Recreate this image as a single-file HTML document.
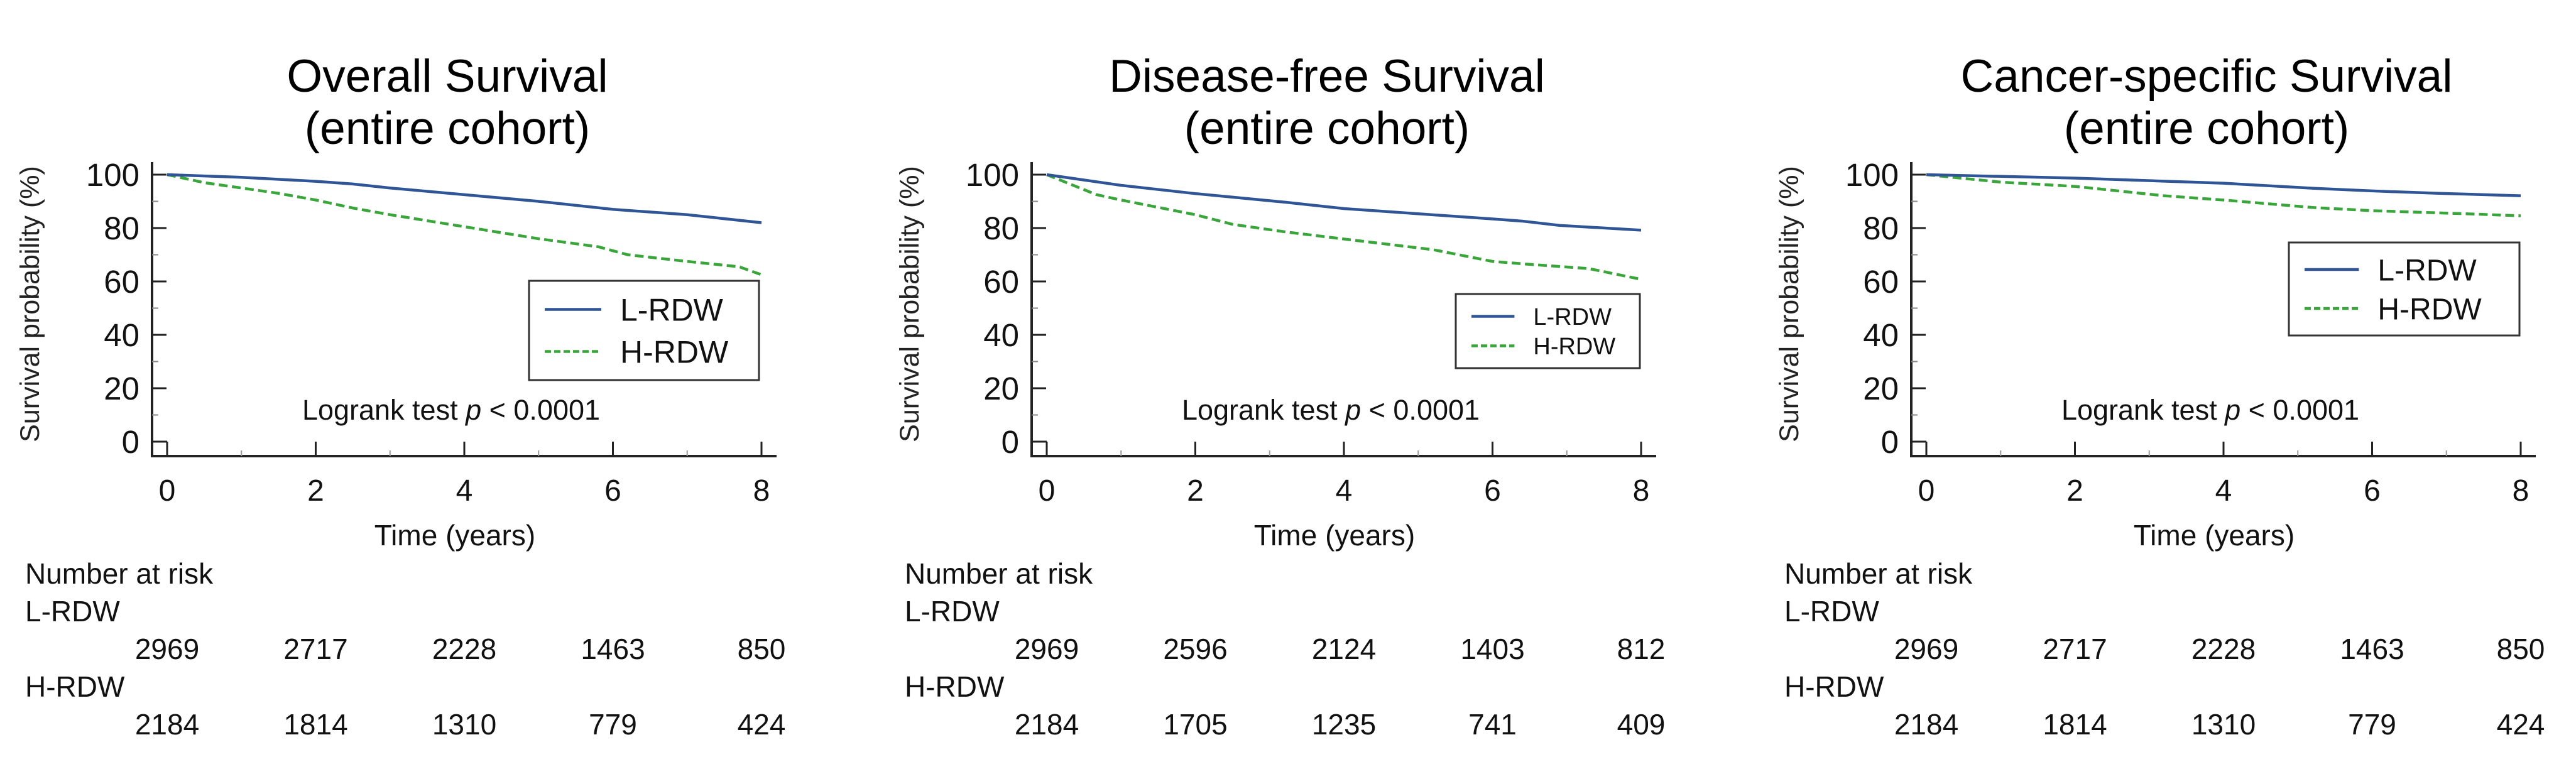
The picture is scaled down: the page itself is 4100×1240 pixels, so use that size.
<!DOCTYPE html>
<html><head><meta charset="utf-8">
<style>
html,body{margin:0;padding:0;background:#fff;}
svg{display:block;font-family:"Liberation Sans",Arial,sans-serif;}
</style></head>
<body>
<svg id="chart" width="4100" height="1240" viewBox="0 0 4100 1240" xmlns="http://www.w3.org/2000/svg"></svg>
<script>
// ---- data ----
const panelTitles1 = ["Overall Survival", "Disease-free Survival", "Cancer-specific Survival"];
const panelTitles2 = ["(entire cohort)", "(entire cohort)", "(entire cohort)"];
const seriesNames = ["L-RDW", "H-RDW"];
const xTicks = [0, 2, 4, 6, 8];
const yTicks = [0, 20, 40, 60, 80, 100];
// Panel 1 - Overall survival
const os_L_t = [0, 1, 2, 2.5, 3, 4, 5, 6, 7, 8];
const os_L_v = [100, 99, 97.5, 96.5, 95, 92.5, 90, 87, 85, 82];
const os_H_t = [0, 0.5, 1, 1.5, 2, 2.5, 3, 4, 5, 5.8, 6.2, 7, 7.7, 8];
const os_H_v = [100, 97, 95, 93, 90.5, 87.5, 85, 80.5, 76, 73, 70, 67.5, 65.5, 62.5];
// Panel 2 - Disease-free survival
const dfs_L_t = [0, 0.5, 1, 2, 3.2, 4, 6, 6.4, 6.9, 8];
const dfs_L_v = [100, 98, 96, 92.9, 89.7, 87.3, 83.4, 82.6, 81, 79.2];
const dfs_H_t = [0, 0.67, 1, 2, 2.5, 3.2, 4, 5.2, 6, 6.5, 7.3, 8];
const dfs_H_v = [100, 92.5, 90.5, 85, 81.4, 78.6, 75.9, 71.9, 67.5, 66.4, 64.8, 60.8];
// Panel 3 - Cancer-specific survival
const css_L_t = [0, 2, 4, 5.2, 6, 6.9, 8];
const css_L_v = [100, 98.7, 96.8, 94.9, 93.9, 93, 92.1];
const css_H_t = [0, 1, 2, 3.2, 4, 5.2, 6, 7.2, 8];
const css_H_v = [100, 97.2, 95.6, 92.1, 90.5, 87.7, 86.5, 85.4, 84.6];
// Numbers at risk
const os_risk_L = [2969, 2717, 2228, 1463, 850];
const os_risk_H = [2184, 1814, 1310, 779, 424];
const dfs_risk_L = [2969, 2596, 2124, 1403, 812];
const dfs_risk_H = [2184, 1705, 1235, 741, 409];
const css_risk_L = [2969, 2717, 2228, 1463, 850];
const css_risk_H = [2184, 1814, 1310, 779, 424];

const panels = [
  {Lt: os_L_t, Lv: os_L_v, Ht: os_H_t, Hv: os_H_v, rL: os_risk_L, rH: os_risk_H, key: "os"},
  {Lt: dfs_L_t, Lv: dfs_L_v, Ht: dfs_H_t, Hv: dfs_H_v, rL: dfs_risk_L, rH: dfs_risk_H, key: "dfs"},
  {Lt: css_L_t, Lv: css_L_v, Ht: css_H_t, Hv: css_H_v, rL: css_risk_L, rH: css_risk_H, key: "css"}
];
const legendBoxes = [
  {x: 842, y: 447, w: 366, h: 158, fs: 50},
  {x: 917, y: 468, w: 293, h: 118, fs: 38},
  {x: 843, y: 386, w: 367, h: 148, fs: 48}
];

const NS = "http://www.w3.org/2000/svg";
const svg = document.getElementById("chart");
function mk(tag, attrs, parent, text) {
  const e = document.createElementNS(NS, tag);
  for (const k in attrs) e.setAttribute(k, attrs[k]);
  if (text !== undefined) e.textContent = text;
  (parent || svg).appendChild(e);
  return e;
}
const BLUE = "#2f5597", GREEN = "#3aa53a";

panels.forEach((p, i) => {
  const ox = i * 1400;
  const x0 = ox + 266, x8 = ox + 1212;
  const yTop = 278, yBot = 703;
  const xs = t => x0 + (x8 - x0) * t / 8;
  const ys = v => yBot - (yBot - yTop) * v / 100;
  const axisX = x0 - 24, axisY = 726;
  const g = mk("g", {});
  
  

  const t1 = mk("text", {x: ox + 712, y: 146, "text-anchor": "middle", "font-size": 73, fill: "#000"}, g, panelTitles1[i]);
  
  
  const t2 = mk("text", {x: ox + 712, y: 229, "text-anchor": "middle", "font-size": 73, fill: "#000"}, g, panelTitles2[i]);
  
  

  const yt = mk("text", {x: 0, y: 0, "text-anchor": "middle", "font-size": 43, fill: "#222",
    transform: `translate(${ox + 62},484) rotate(-90)`}, g, "Survival probability (%)");
  
  

  const ax = mk("path", {d: `M${axisX} 258 L${axisX} ${axisY} L${x8 + 24} ${axisY}`, stroke: "#222", "stroke-width": 4, fill: "none"}, g);
  
  

  yTicks.forEach(v => {
    const y = ys(v);
    const tk = mk("line", {x1: axisX, x2: (v === 0 ? x0 : axisX + 23), y1: y, y2: y, stroke: "#222", "stroke-width": 3}, g);
    
    
    const lb = mk("text", {x: axisX - 20, y: y + 18, "text-anchor": "end", "font-size": 51, fill: "#111"}, g, String(v));
    
    
  });
  for (let v = 10; v < 100; v += 20) {
    const mt = mk("line", {x1: axisX, x2: axisX + 10, y1: ys(v), y2: ys(v), stroke: "#888", "stroke-width": 2}, g);
    
    
  }
  xTicks.forEach(t => {
    const x = xs(t);
    const tk = mk("line", {x1: x, x2: x, y1: axisY, y2: axisY - 23, stroke: "#222", "stroke-width": 3}, g);
    
    
    const lb = mk("text", {x: x, y: 797, "text-anchor": "middle", "font-size": 48, fill: "#111"}, g, String(t));
    
    
  });
  for (let t = 1; t < 8; t += 2) {
    const mt = mk("line", {x1: xs(t), x2: xs(t), y1: axisY, y2: axisY - 9, stroke: "#999", "stroke-width": 2}, g);
    
    
  }
  const xt = mk("text", {x: ox + 724, y: 868, "text-anchor": "middle", "font-size": 46, fill: "#111"}, g, "Time (years)");
  
  

  const ptsL = p.Lt.map((t, k) => xs(t) + "," + ys(p.Lv[k])).join(" ");
  const ptsH = p.Ht.map((t, k) => xs(t) + "," + ys(p.Hv[k])).join(" ");
  const cH = mk("polyline", {points: ptsH, fill: "none", stroke: GREEN, "stroke-width": 4.5, "stroke-dasharray": "14 7"}, g);
  
  
  const cL = mk("polyline", {points: ptsL, fill: "none", stroke: BLUE, "stroke-width": 4.5}, g);
  
  

  const lb = legendBoxes[i];
  const lg = mk("g", {}, g);
  
  
  mk("rect", {x: ox + lb.x, y: lb.y, width: lb.w, height: lb.h, fill: "#fff", stroke: "#333", "stroke-width": 3}, lg);
  const rowH = lb.h / 2;
  seriesNames.forEach((n, k) => {
    const cy = lb.y + rowH * (k + 0.5) + (k === 0 ? 6 : -6);
    const lx = ox + lb.x + 25;
    const ln = mk("line", {x1: lx, x2: lx + lb.fs * 1.8, y1: cy, y2: cy, stroke: k === 0 ? BLUE : GREEN, "stroke-width": 4.5,
      "stroke-dasharray": k === 0 ? "none" : "10 5"}, lg);
    
    
    const tx = mk("text", {x: lx + lb.fs * 1.8 + 30, y: cy + lb.fs * 0.36, "font-size": lb.fs, fill: "#111"}, lg, n);
    
    
  });

  const lr = mk("text", {x: ox + 718, y: 668, "text-anchor": "middle", "font-size": 45, fill: "#111"}, g);
  
  
  mk("tspan", {}, lr, "Logrank test ");
  mk("tspan", {"font-style": "italic"}, lr, "p");
  mk("tspan", {}, lr, " < 0.0001");

  const rt = mk("g", {}, g);
  
  
  mk("text", {x: ox + 40, y: 929, "font-size": 46, fill: "#111"}, rt, "Number at risk");
  mk("text", {x: ox + 40, y: 989, "font-size": 46, fill: "#111"}, rt, "L-RDW");
  mk("text", {x: ox + 40, y: 1109, "font-size": 46, fill: "#111"}, rt, "H-RDW");
  xTicks.forEach((t, k) => {
    const a = mk("text", {x: xs(t), y: 1049, "text-anchor": "middle", "font-size": 46, fill: "#111"}, rt, String(p.rL[k]));
    
    
    const b = mk("text", {x: xs(t), y: 1169, "text-anchor": "middle", "font-size": 46, fill: "#111"}, rt, String(p.rH[k]));
    
    
  });
});
</script>
</body></html>
